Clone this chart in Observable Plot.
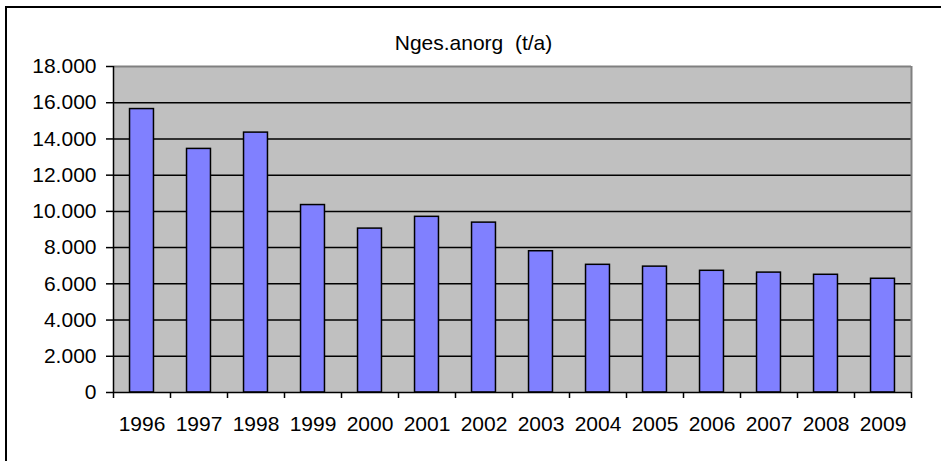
<!DOCTYPE html>
<html>
<head>
<meta charset="utf-8">
<script src="https://cdn.jsdelivr.net/npm/d3@7"></script>
<script src="https://cdn.jsdelivr.net/npm/@observablehq/plot@0.6"></script>
<style>
  html, body { margin: 0; padding: 0; background: #fff; }
  #wrap { position: relative; width: 941px; height: 461px; overflow: hidden; }
  #border { position: absolute; left: 5px; top: 6px; width: 960px; height: 480px; border: 2px solid #000; box-sizing: border-box; }
  #chart { position: absolute; left: 0; top: 0; }
</style>
</head>
<body>
<div id="wrap"><div id="border"></div><div id="chart"></div></div>
<script>
const title = "Nges.anorg\u00a0 (t/a)";
const years = [1996, 1997, 1998, 1999, 2000, 2001, 2002, 2003, 2004, 2005, 2006, 2007, 2008, 2009];
const values = [15650, 13450, 14350, 10350, 9050, 9700, 9380, 7800, 7050, 6950, 6720, 6620, 6500, 6280];
const yTicks = [0, 2000, 4000, 6000, 8000, 10000, 12000, 14000, 16000, 18000];

const data = years.map((year, i) => ({year, value: values[i]}));
const de = d3.formatLocale({decimal: ",", thousands: ".", grouping: [3], currency: ["", " €"]});
const fmt = de.format(",");
const half = 0.21;
const bounds = years.map(y => y - 0.5).concat([years[years.length - 1] + 0.5]);
const font = "'Liberation Sans', Arial, Helvetica, sans-serif";

const chart = Plot.plot({
  width: 941,
  height: 461,
  marginLeft: 113,
  marginRight: 30,
  marginTop: 66,
  marginBottom: 69,
  style: {fontFamily: font, fontSize: "21px", background: "transparent", color: "#000"},
  x: {type: "linear", domain: [bounds[0], bounds[bounds.length - 1]]},
  y: {domain: [0, 18000]},
  marks: [
    Plot.frame({fill: "#c0c0c0"}),
    Plot.ruleY(yTicks.filter(d => d > 0 && d < 18000), {stroke: "#000", strokeWidth: 1.5}),
    Plot.ruleY([18000], {stroke: "#808080", strokeWidth: 2}),
    Plot.ruleX([bounds[bounds.length - 1]], {stroke: "#808080", strokeWidth: 2}),
    Plot.rectY(data, {x1: d => d.year - half, x2: d => d.year + half, y: "value", fill: "#8080ff", stroke: "#000", strokeWidth: 1.5}),
    Plot.ruleY([0], {stroke: "#000", strokeWidth: 1.5}),
    Plot.ruleX([bounds[0]], {stroke: "#000", strokeWidth: 1.5}),
    Plot.axisY({ticks: yTicks, tickSize: 7, tickPadding: 10, tickFormat: fmt, fontSize: 21, stroke: "#000", strokeWidth: 1.5, label: null}),
    Plot.axisX({ticks: bounds, tickSize: 6, tickFormat: () => "", stroke: "#000", strokeWidth: 1.5, label: null}),
    Plot.axisX({ticks: years, tickSize: 0, tickPadding: 24, tickFormat: d => String(d), fontSize: 21, label: null}),
    Plot.text([title], {frameAnchor: "top", dy: -31, dx: -39, fontSize: 21, fill: "#000"})
  ]
});
document.getElementById("chart").appendChild(chart);
</script>
</body>
</html>
